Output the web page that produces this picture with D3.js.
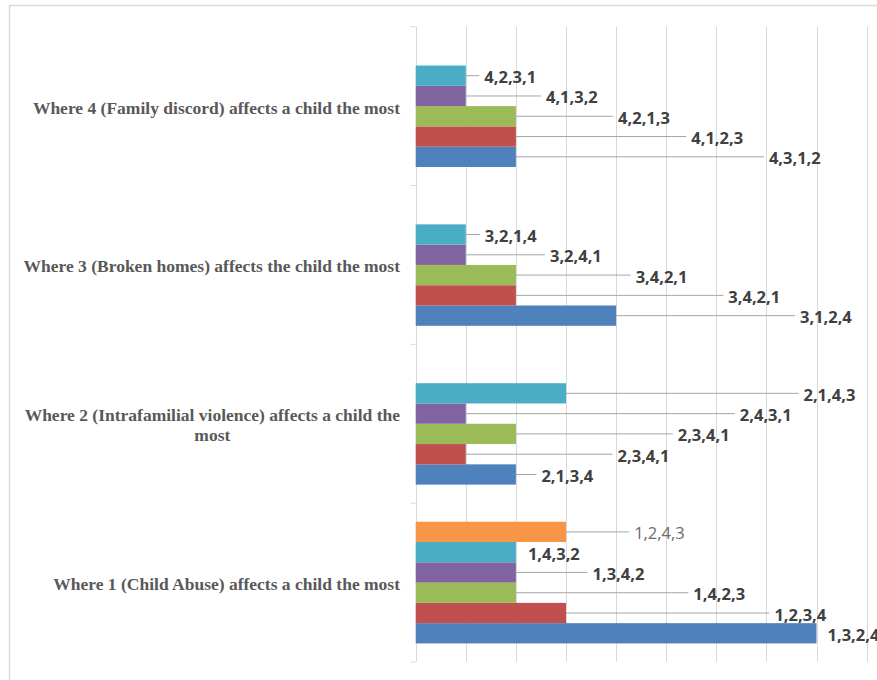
<!DOCTYPE html>
<html>
<head>
<meta charset="utf-8">
<script src="https://cdn.jsdelivr.net/npm/d3@7"></script>
<style>
  html, body { margin: 0; padding: 0; background: #fff; }
  svg { display: block; }
</style>
</head>
<body>
<svg id="chart" width="877" height="680"></svg>
<script>
// ---- data ----
const categories = [
  "Where 1 (Child Abuse) affects a child the most",
  "Where 2 (Intrafamilial violence) affects a child the most",
  "Where 3 (Broken homes) affects the child the most",
  "Where 4 (Family discord) affects a child the most"
];
const seriesNames = ["Series1", "Series2", "Series3", "Series4", "Series5", "Series6"];
const series1 = [8, 2, 4, 2];
const series2 = [3, 1, 2, 2];
const series3 = [2, 2, 2, 2];
const series4 = [2, 1, 1, 1];
const series5 = [2, 3, 1, 1];
const series6 = [3, null, null, null];
const labels1 = ["1,3,2,4", "2,1,3,4", "3,1,2,4", "4,3,1,2"];
const labels2 = ["1,2,3,4", "2,3,4,1", "3,4,2,1", "4,1,2,3"];
const labels3 = ["1,4,2,3", "2,3,4,1", "3,4,2,1", "4,2,1,3"];
const labels4 = ["1,3,4,2", "2,4,3,1", "3,2,4,1", "4,1,3,2"];
const labels5 = ["1,4,3,2", "2,1,4,3", "3,2,1,4", "4,2,3,1"];
const labels6 = ["1,2,4,3", null, null, null];

// ---- layout (label anchor positions, in axis units) ----
const labelAt = [
  [8.22, 2.51, 7.67, 7.05],
  [7.16, 4.03, 6.24, 5.50],
  [5.54, 5.23, 4.39, 4.04],
  [3.53, 6.47, 2.68, 2.60],
  [2.24, 7.74, 1.38, 1.37],
  [4.36, null, null, null]
];
const colors = ["#4F81BD", "#C0504D", "#9BBB59", "#8064A2", "#4BACC6", "#F79646"];

const values = [series1, series2, series3, series4, series5, series6];
const labelTexts = [labels1, labels2, labels3, labels4, labels5, labels6];

const svg = d3.select("#chart");

// chart frame
svg.append("path")
  .attr("d", "M9.5,680 L9.5,5.5 L877,5.5")
  .attr("fill", "none").attr("stroke", "#d9d9d9").attr("stroke-width", 1.5);

const plotLeft = 415.7, unit = 50.1;
const x = d3.scaleLinear().domain([0, 10]).range([plotLeft, plotLeft + 10 * unit]);
const y0 = d3.scaleBand().domain(categories.slice().reverse()).range([26.7, 662]).padding(0);
const y1 = d3.scaleBand().domain(seriesNames.slice().reverse())
  .range([0, y0.bandwidth()]).paddingInner(0).paddingOuter(0.915);

// gridlines
svg.append("g").selectAll("line").data(d3.range(1, 11)).join("line")
  .attr("x1", d => Math.round(x(d)) + 0.5).attr("x2", d => Math.round(x(d)) + 0.5)
  .attr("y1", 26.7).attr("y2", 662)
  .attr("stroke", "#d9d9d9").attr("stroke-width", 1);

// vertical axis line + ticks at band boundaries
const axisG = svg.append("g");
axisG.append("line")
  .attr("x1", Math.round(plotLeft) + 0.5).attr("x2", Math.round(plotLeft) + 0.5)
  .attr("y1", 26.7).attr("y2", 662)
  .attr("stroke", "#d9d9d9");
const bounds = categories.map(c => y0(c)).concat([662]);
axisG.selectAll("line.tick").data(bounds).join("line").attr("class", "tick")
  .attr("x1", plotLeft - 5).attr("x2", plotLeft)
  .attr("y1", d => d).attr("y2", d => d)
  .attr("stroke", "#d9d9d9");

// bars
const barData = [];
values.forEach((vals, si) => {
  vals.forEach((v, ci) => {
    if (v == null) return;
    barData.push({
      cat: categories[ci], s: seriesNames[si], si, v,
      label: labelTexts[si][ci], at: labelAt[si][ci]
    });
  });
});

svg.append("g").selectAll("rect").data(barData).join("rect")
  .attr("x", x(0))
  .attr("y", d => y0(d.cat) + y1(d.s))
  .attr("width", d => x(d.v) - x(0))
  .attr("height", y1.bandwidth())
  .attr("fill", d => colors[d.si]);

// leader lines
const lblG = svg.append("g");
barData.forEach(d => {
  const cy = y0(d.cat) + y1(d.s) + y1.bandwidth() / 2;
  const lx = x(d.at);
  const bx = x(d.v);
  if (lx - bx > 15) {
    lblG.append("line")
      .attr("x1", bx).attr("x2", lx - 5)
      .attr("y1", cy).attr("y2", cy)
      .attr("stroke", "#a6a6a6").attr("stroke-width", 1);
  }
  lblG.append("text")
    .attr("x", lx).attr("y", cy + 1)
    .attr("dominant-baseline", "central")
    .attr("font-family", "'Open Sans', sans-serif")
    .attr("font-size", 16.5)
    .attr("font-weight", d.si === 5 ? "normal" : "bold")
    .attr("fill", d.si === 5 ? "#6b6b6b" : "#404040")
    .text(d.label);
});

// category labels (wrapped, block right aligned, lines centered)
const catG = svg.append("g");
const maxW = 390, rightEdge = 400, lineH = 20;
categories.forEach(c => {
  const words = c.split(" ");
  const tmp = catG.append("text")
    .attr("font-family", "'Liberation Serif', 'Times New Roman', serif")
    .attr("font-weight", "bold").attr("font-size", 17.5);
  const lines = [];
  let cur = "";
  words.forEach(w => {
    const test = cur ? cur + " " + w : w;
    tmp.text(test);
    if (tmp.node().getComputedTextLength() > maxW && cur) {
      lines.push(cur); cur = w;
    } else cur = test;
  });
  lines.push(cur);
  const widths = lines.map(l => { tmp.text(l); return tmp.node().getComputedTextLength(); });
  tmp.remove();
  const blockW = d3.max(widths);
  const cx = rightEdge - blockW / 2;
  const cy = y0(c) + y0.bandwidth() / 2 + 1.5;
  lines.forEach((l, i) => {
    catG.append("text")
      .attr("x", cx)
      .attr("y", cy + (i - (lines.length - 1) / 2) * lineH)
      .attr("text-anchor", "middle")
      .attr("dominant-baseline", "central")
      .attr("font-family", "'Liberation Serif', 'Times New Roman', serif")
      .attr("font-weight", "bold").attr("font-size", 17.5)
      .attr("fill", "#595959")
      .text(l);
  });
});
</script>
</body>
</html>
